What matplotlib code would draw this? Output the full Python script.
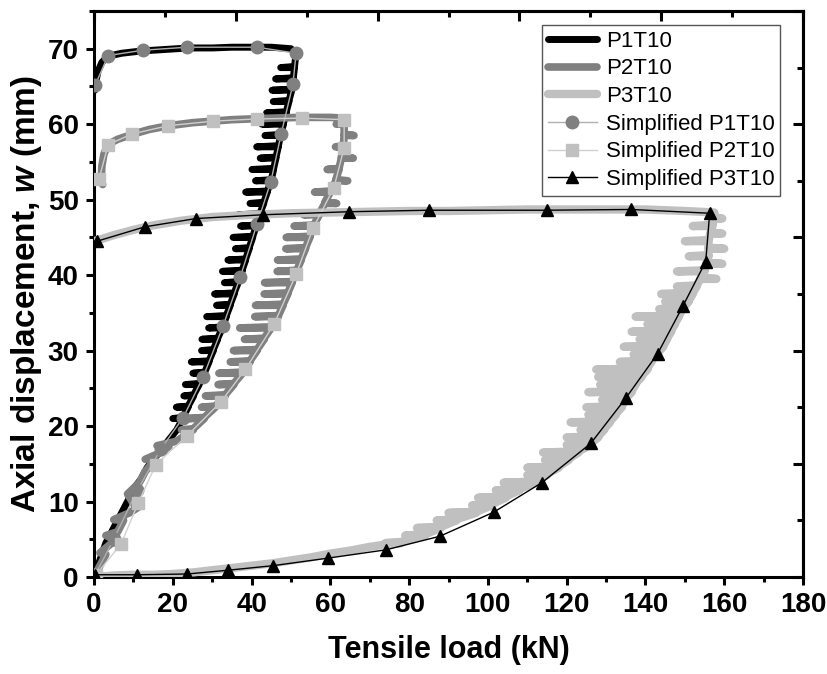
import matplotlib
matplotlib.use("Agg")
from matplotlib import pyplot as plt
from matplotlib.ticker import MultipleLocator

# raw test curves: load (kN) and axial displacement (mm)
p1_x = [0, 1, 2, 3, 4, 5, 6, 7.5, 9, 10.5, 12, 13.5, 15, 16.5, 18, 19.5, 21,
        22.5, 20, 22.5, 23.9, 20.9, 23.9, 25.3, 22.8, 25.3, 26.7, 23.2, 26.7, 28.1, 25.1, 28.1,
        29.2, 24.7, 29.2, 30.3, 27.3, 30.3, 31.4, 27.4, 31.4, 32.6, 29.1, 32.6, 33.6, 28.6, 33.6,
        34.6, 31.1, 34.6, 35.6, 30.6, 35.6, 36.6, 33.1, 36.6, 37.6, 32.6, 37.6, 38.5, 34, 38.5,
        39.4, 35.9, 39.4, 40.3, 35.3, 40.3, 41.2, 37.2, 41.2, 42.1, 36.6, 42.1, 43.1, 39.6, 43.1,
        44, 38.5, 44, 45, 41, 45, 45.6, 40.1, 45.6, 46.2, 42.2, 46.2, 46.8, 41.3, 46.8,
        47.4, 43.4, 47.4, 48.1, 42.6, 48.1, 48.8, 43.8, 48.8, 49.5, 45.5, 49.5, 50.2, 45.2, 50.2,
        50.6, 46.1, 50.6, 50.9, 47.4, 50.9, 51.3,
        50, 45, 40, 35, 30, 24, 18, 12, 7, 3.5, 2, 1, 0.4, 0.2]
p1_y = [0, 1.5, 3, 4.5, 5.5, 6.5, 7.5, 9, 10.5, 12, 13, 14.5, 15.5, 16.5, 17.5, 18.5, 19.5,
        21, 21, 21.15, 22.5, 22.5, 22.65, 24, 24, 24.15, 25.5, 25.5, 25.65, 27, 27, 27.15,
        28.5, 28.5, 28.65, 30, 30, 30.15, 31.5, 31.5, 31.65, 33, 33, 33.15, 34.5, 34.5, 34.65,
        36, 36, 36.15, 37.5, 37.5, 37.65, 39, 39, 39.15, 40.5, 40.5, 40.65, 42, 42, 42.15,
        43.5, 43.5, 43.65, 45, 45, 45.15, 46.5, 46.5, 46.65, 48, 48, 48.15, 49.5, 49.5, 49.65,
        51, 51, 51.15, 52.5, 52.5, 52.65, 54, 54, 54.15, 55.5, 55.5, 55.65, 57, 57, 57.15,
        58.5, 58.5, 58.65, 60, 60, 60.15, 61.5, 61.5, 61.65, 63, 63, 63.15, 64.5, 64.5, 64.65,
        66, 66, 66.15, 67.5, 67.5, 67.65, 69.4,
        70, 70.2, 70.2, 70.2, 70.1, 70.1, 69.9, 69.7, 69.4, 69, 68.2, 67, 65.5, 64.5]

p2_x = [0, 1.5, 3, 1.5, 4.5, 7, 3, 6, 7.5, 5, 9, 12, 10, 8.5, 11.5, 13, 15.5, 13, 17, 19, 16, 21,
        25.2, 22.2, 25.2, 28, 24, 28, 30.8, 27.3, 30.8, 33.3, 28.3, 33.3, 35.5, 31.5, 35.5,
        37.7, 31.7, 37.7, 39.6, 34.6, 39.6, 41.4, 35.4, 41.4, 43.2, 38.2, 43.2, 45, 37, 45,
        46.8, 40.8, 46.8, 48, 41, 48, 49.2, 43.2, 49.2, 50.3, 43.3, 50.3, 51.5, 46.5, 51.5,
        52.6, 46.6, 52.6, 53.7, 48.7, 53.7, 54.8, 48.8, 54.8, 55.8, 50.8, 55.8, 57.2, 53.2, 57.2,
        58.6, 61.6, 58.6, 60, 56, 60, 61.4, 64.4, 61.4, 62.2, 59.2, 62.2, 62.8, 65.8, 62.8,
        63.3, 61.3, 63.3, 63.5, 66, 63.5, 63.5, 61.5, 63.5, 63.5,
        60, 52, 45, 40, 35, 30, 25, 19, 14, 10, 6, 3.5, 2.5, 2, 1.8, 2.2]
p2_y = [0, 1.5, 3, 3.2, 4.5, 4.6, 5.5, 6, 7.5, 7.6, 8.5, 9.5, 9.7, 11, 12.5, 14, 15.5, 15.6, 16.5, 17.3, 17.4, 18,
        19.5, 19.5, 19.65, 21, 21, 21.15, 22.5, 22.5, 22.65, 24, 24, 24.15, 25.5, 25.5, 25.65,
        27, 27, 27.15, 28.5, 28.5, 28.65, 30, 30, 30.15, 31.5, 31.5, 31.65, 33, 33, 33.15,
        34.5, 34.5, 34.65, 36, 36, 36.15, 37.5, 37.5, 37.65, 39, 39, 39.15, 40.5, 40.5, 40.65,
        42, 42, 42.15, 43.5, 43.5, 43.65, 45, 45, 45.15, 46.5, 46.5, 46.65, 48, 48, 48.15,
        49.5, 49.5, 49.65, 51, 51, 51.15, 52.5, 52.5, 52.65, 54, 54, 54.15, 55.5, 55.5, 55.65,
        57, 57, 57.15, 58.5, 58.5, 58.65, 60, 60, 60.15, 60.8,
        60.9, 60.9, 60.8, 60.7, 60.6, 60.4, 60.2, 59.8, 59.3, 58.7, 58, 57.3, 56, 54.5, 52.5, 52]

p3_x = [0, 5, 10, 15, 20, 25, 30, 35, 40, 45, 50, 55, 60, 65, 70, 74,
        78, 74, 78, 84, 79, 84, 88, 82, 88, 92, 87, 92, 97, 90, 97, 101, 96, 101,
        104.5, 97.5, 104.5, 108, 102, 108, 112, 104, 112, 115, 110, 115, 118, 110, 118,
        120.5, 114.5, 120.5, 123, 114, 123, 126, 120, 126, 128, 120, 128, 129.5, 123.5, 129.5,
        131, 121, 131, 132.5, 125.5, 132.5, 134, 125, 134, 135, 129, 135,
        136.5, 125.5, 136.5, 137.5, 128.5, 137.5, 139, 128, 139, 140.5, 127.5, 140.5, 141.5, 133.5, 141.5,
        143, 137, 143, 144.5, 134.5, 144.5, 145.5, 138.5, 145.5, 146.5, 136.5, 146.5, 147.5, 140.5, 147.5,
        148.5, 137.5, 148.5, 149.5, 143.5, 149.5, 151, 145, 151, 152, 144, 152, 153, 148, 153,
        154, 158, 154, 155, 148, 155, 155.5, 159.5, 155.5, 156, 151, 156, 156, 160, 156,
        156, 150, 156, 156.5, 159.5, 156.5, 157, 152, 157, 157.5, 159.5, 157.5, 157.5,
        150, 140, 130, 120, 110, 100, 90, 80, 70, 60, 50, 40, 30, 22, 15, 10, 5, 2, 0]
p3_y = [0, 0.2, 0.3, 0.3, 0.4, 0.6, 0.9, 1.2, 1.5, 1.8, 2.2, 2.6, 3.1, 3.5, 4, 4.3,
        4.5, 4.5, 4.65, 5.5, 5.5, 5.65, 6.5, 6.5, 6.65, 7.5, 7.5, 7.65, 8.5, 8.5, 8.65, 9.5, 9.5, 9.65,
        10.5, 10.5, 10.65, 11.5, 11.5, 11.65, 12.5, 12.5, 12.65, 13.5, 13.5, 13.65, 14.5, 14.5, 14.65,
        15.5, 15.5, 15.65, 16.5, 16.5, 16.65, 17.5, 17.5, 17.65, 18.5, 18.5, 18.65, 19.5, 19.5, 19.65,
        20.5, 20.5, 20.65, 21.5, 21.5, 21.65, 22.5, 22.5, 22.65, 23.5, 23.5, 23.65,
        24.5, 24.5, 24.65, 25.5, 25.5, 25.65, 26.5, 26.5, 26.65, 27.5, 27.5, 27.65, 28.5, 28.5, 28.65,
        29.5, 29.5, 29.65, 30.5, 30.5, 30.65, 31.5, 31.5, 31.65, 32.5, 32.5, 32.65, 33.5, 33.5, 33.65,
        34.5, 34.5, 34.65, 35.5, 35.5, 35.65, 36.5, 36.5, 36.65, 37.5, 37.5, 37.65, 38.5, 38.5, 38.65,
        39.5, 39.5, 39.65, 40.5, 40.5, 40.65, 41.5, 41.5, 41.65, 42.5, 42.5, 42.65, 43.5, 43.5, 43.65,
        44.5, 44.5, 44.65, 45.5, 45.5, 45.65, 46.5, 46.5, 46.65, 47.5, 47.5, 47.65, 48.3,
        48.5, 48.7, 48.7, 48.7, 48.7, 48.6, 48.5, 48.5, 48.4, 48.3, 48.2, 48, 47.7, 47.2, 46.6, 46, 45.3, 44.8, 44.5]

# simplified curves
s1_x = [0.3, 5, 11, 17, 22.6, 27.7, 32.7, 37.1, 41.4, 44.9, 47.5, 50.5, 51.3, 41.4, 23.6, 12.4, 3.6, 0.3]
s1_y = [0.3, 5, 11.5, 17, 21.1, 26.5, 33.2, 39.7, 46.8, 52.4, 58.7, 65.3, 69.4, 70.2, 70.2, 69.8, 69.1, 65.2]

s2_x = [0.5, 6.9, 11.2, 15.7, 23.6, 32.2, 38.4, 45.7, 51.3, 55.6, 60.9, 63.5, 63.5, 52.8, 41.4, 30.2, 18.8, 9.6, 3.6, 1.3]
s2_y = [0.3, 4.4, 9.8, 14.9, 18.7, 23.2, 27.5, 33.5, 40.1, 46.2, 51.6, 56.9, 60.6, 60.8, 60.7, 60.4, 59.8, 58.7, 57.3, 52.8]

s3_x = [0.3, 10.9, 23.7, 34, 45.4, 59.4, 74.1, 87.8, 101.5, 113.7, 126.1, 135, 143.1, 149.5, 155.3, 156.3,
        136.3, 115, 85, 64.7, 42.9, 25.9, 12.9, 0.8]
s3_y = [0.3, 0.3, 0.4, 0.9, 1.5, 2.5, 3.6, 5.4, 8.6, 12.5, 17.7, 23.7, 29.6, 35.9, 41.8, 48.2,
        48.7, 48.6, 48.6, 48.4, 48.0, 47.5, 46.4, 44.5]

names = ["P1T10", "P2T10", "P3T10", "Simplified P1T10", "Simplified P2T10", "Simplified P3T10"]

plt.rcParams["font.family"] = ["Liberation Sans", "DejaVu Sans"]
plt.rcParams["mathtext.fontset"] = "custom"
plt.rcParams["mathtext.it"] = "Liberation Sans:italic:bold"
plt.rcParams["mathtext.rm"] = "Liberation Sans:bold"

fig = plt.figure(figsize=(8.27, 6.74), dpi=100)
ax = fig.add_axes([0.1137, 0.1439, 0.8573, 0.8398])

raw = dict(solid_joinstyle="round", solid_capstyle="round")
ax.plot(p1_x, p1_y, color="black", lw=5, label=names[0], zorder=2, **raw)
ax.plot(p2_x, p2_y, color="#808080", lw=5.5, label=names[1], zorder=3, **raw)
ax.plot(p3_x, p3_y, color="#c0c0c0", lw=6, label=names[2], zorder=4, **raw)
ax.plot(s1_x, s1_y, color="#b0b0b0", lw=1, marker="o", ms=9, mfc="#808080", mec="#808080", label=names[3], zorder=5)
ax.plot(s2_x, s2_y, color="#d0d0d0", lw=1, marker="s", ms=8, mfc="#c0c0c0", mec="#c0c0c0", label=names[4], zorder=6)
ax.plot(s3_x, s3_y, color="black", lw=1, marker="^", ms=9, mfc="black", mec="black", label=names[5], zorder=7)

ax.set_xlim(0, 180)
ax.set_ylim(0, 75)
ax.xaxis.set_major_locator(MultipleLocator(20))
ax.xaxis.set_minor_locator(MultipleLocator(10))
ax.yaxis.set_major_locator(MultipleLocator(10))
ax.yaxis.set_minor_locator(MultipleLocator(5))
ax.tick_params(which="major", direction="out", length=6, width=2.2, pad=5, labelsize=20)
ax.tick_params(which="minor", direction="out", length=3.5, width=2.2)
for lab in ax.get_xticklabels() + ax.get_yticklabels():
    lab.set_fontweight("bold")
for sp in ax.spines.values():
    sp.set_linewidth(2.2)

top = ax.secondary_xaxis("top")
top.xaxis.set_major_locator(MultipleLocator(36))
top.xaxis.set_minor_locator(MultipleLocator(18))
top.tick_params(which="major", direction="in", length=7, width=2.2, labeltop=False)
top.tick_params(which="minor", direction="in", length=4, width=2.2)
top.spines["top"].set_linewidth(2.2)
right = ax.secondary_yaxis("right")
right.yaxis.set_major_locator(MultipleLocator(15))
right.yaxis.set_minor_locator(MultipleLocator(7.5))
right.tick_params(which="major", direction="in", length=7, width=2.2, labelright=False)
right.tick_params(which="minor", direction="in", length=4, width=2.2)
right.spines["right"].set_linewidth(2.2)

ax.set_xlabel("Tensile load (kN)", fontsize=22, fontweight="bold", labelpad=12)
ax.set_ylabel("Axial displacement, $w$ (mm)", fontsize=24, fontweight="bold", labelpad=3)

leg = ax.legend(loc="upper right", bbox_to_anchor=(0.9675, 0.975), fontsize=16, frameon=True,
                fancybox=False, edgecolor="#555555", framealpha=1, borderpad=0.25, labelspacing=0.3,
                handlelength=2.2, handletextpad=0.4, borderaxespad=0)
leg.get_frame().set_linewidth(1)

fig.savefig("out.png", dpi=100)
